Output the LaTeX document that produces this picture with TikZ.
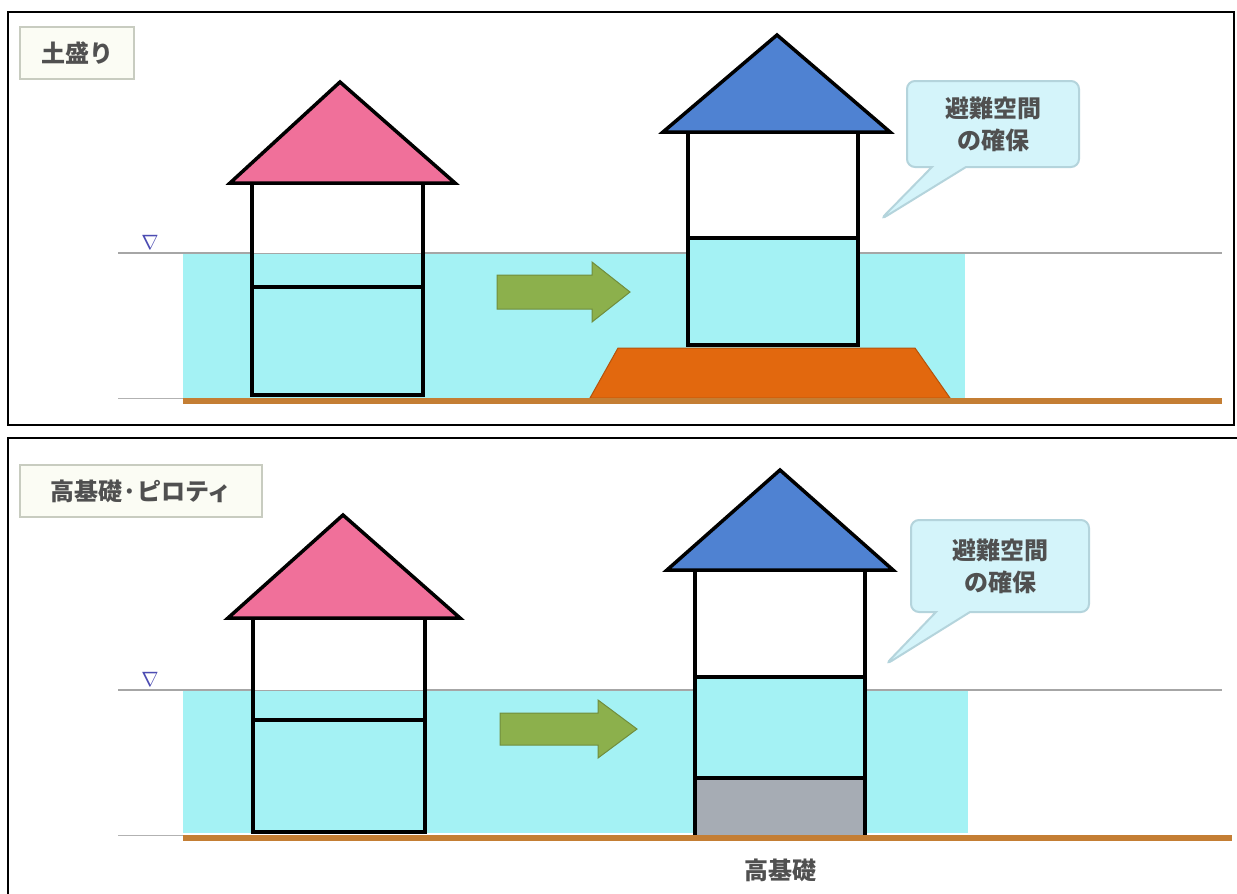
\documentclass[tikz,border=0pt]{standalone}
\usepackage{fontspec}
\newfontfamily\jpfont{Noto Sans CJK JP}
\usetikzlibrary{shapes.callouts}
\definecolor{water}{HTML}{A4F2F4}
\definecolor{ground}{HTML}{C47E34}
\definecolor{mound}{HTML}{E2680E}
\definecolor{pinkroof}{HTML}{F0709A}
\definecolor{blueroof}{HTML}{4F82D2}
\definecolor{arrowgreen}{HTML}{8CB04C}
\definecolor{pilotis}{HTML}{A6ACB4}
\definecolor{calloutfill}{HTML}{D4F4FA}
\definecolor{calloutline}{HTML}{B4D4DC}
\definecolor{labelline}{HTML}{C8CCC0}
\definecolor{labelfill}{HTML}{FBFCF4}
\definecolor{labeltext}{HTML}{505050}
\tikzset{
  frame/.style={draw=black, line width=2.5pt},
  wall/.style={draw=black, line width=4pt},
  roofstyle/.style={draw=black, line width=3.5pt, line join=miter},
  levelline/.style={draw=gray!70, line width=1.2pt},
  groundline/.style={draw=ground, line width=6pt},
  panellabel/.style={draw=labelline, fill=labelfill, line width=2.5pt, inner xsep=10pt,
    minimum height=52pt, font=\jpfont\bfseries\fontsize{24}{24}\selectfont, text=labeltext},
  callouttext/.style={font=\jpfont\bfseries\fontsize{24}{32}\selectfont, text=labeltext, align=center},
  calloutbox/.style={rectangle callout, rounded corners=8pt, fill=calloutfill, draw=calloutline,
    line width=2pt, callout pointer width=34pt, callouttext},
  flowarrow/.style={fill=arrowgreen, draw=arrowgreen!80!black, line width=1pt},
  levelmark/.style={font=\fontsize{20}{20}\selectfont, text=blue!40!gray}
}
\begin{document}
\begin{tikzpicture}[x=1pt,y=-1pt]
\useasboundingbox (0,0) rectangle (1237,894);
\fill[white] (0,0) rectangle (1237,894);

% ================= upper panel: raised ground =================
% flood water
\fill[water] (183,253) rectangle (965,398);
% flood level
\draw[levelline] (118,253) -- (1222,253);
\node[levelmark] (lv1) at (150,242) {$\nabla$};
% ground
\draw[draw=gray!60, line width=1pt] (118,398) -- (183,398);
% raised earth mound
\fill[mound, draw=mound!80!black, line width=1pt] (590,398) -- (618,348) -- (915,348) -- (950,398) -- cycle;
\draw[groundline] (183,401) -- (1222,401);

% left house
\fill[white] (252,183) rectangle (423,253);
\draw[wall] (252,183) rectangle (423,395);
\draw[wall] (252,287) -- (423,287);
\draw[roofstyle, fill=pinkroof] (230,183) -- (340,82) -- (455,183) -- cycle;

% right house on the mound
\fill[white] (688,132) rectangle (858,238);
\fill[water] (688,238) rectangle (858,345);
\draw[wall] (688,132) rectangle (858,345);
\draw[wall] (688,238) -- (858,238);
\draw[roofstyle, fill=blueroof] (663,132) -- (777,35) -- (890,132) -- cycle;

% arrow
\draw[flowarrow] (497,275) -- (592,275) -- (592,262) -- (630,292) -- (592,322) -- (592,309) -- (497,309) -- cycle;

% callout
\node[calloutbox, minimum width=172pt, minimum height=86pt,
      callout absolute pointer={(880,220)}] (c1) at (993,124) {避難空間\\の確保};

% panel label
\node[panellabel, minimum width=114pt] (l1) at (77,53) {土盛り};

% panel frame
\draw[frame] (8,12) rectangle (1234,425);

% ================= lower panel: raised foundation / pilotis =================
\fill[water] (183,690) rectangle (968,833);
\draw[levelline] (118,690) -- (1222,690);
\node[levelmark] (lv2) at (150,679) {$\nabla$};
\draw[draw=gray!60, line width=1pt] (118,835) -- (183,835);

% pilotis / high foundation block
\fill[pilotis] (695,780) rectangle (865,835);
\draw[groundline] (183,838) -- (1232,838);

% left house
\fill[white] (253,618) rectangle (425,690);
\draw[wall] (253,618) rectangle (425,832);
\draw[wall] (253,720) -- (425,720);
\draw[roofstyle, fill=pinkroof] (228,618) -- (343,515) -- (460,618) -- cycle;

% right house on the high foundation
\fill[white] (695,570) rectangle (865,677);
\fill[water] (695,677) rectangle (865,778);
\draw[wall] (695,570) rectangle (865,778);
\draw[wall] (695,677) -- (865,677);
\draw[wall] (695,778) -- (695,835);
\draw[wall] (865,778) -- (865,835);
\draw[roofstyle, fill=blueroof] (667,570) -- (780,470) -- (893,570) -- cycle;

% arrow
\draw[flowarrow] (500,713) -- (598,713) -- (598,700) -- (637,729) -- (598,758) -- (598,745) -- (500,745) -- cycle;

% callout
\node[calloutbox, minimum width=178pt, minimum height=92pt,
      callout absolute pointer={(885,665)}] (c2) at (1000,566) {避難空間\\の確保};

% panel label
\node[panellabel, minimum width=242pt] (l2) at (141,491) {高基礎·ピロティ};

% caption under the foundation
\node[font=\jpfont\bfseries\fontsize{24}{24}\selectfont, text=labeltext] (t2) at (780,870) {高基礎};

% panel frame
\draw[frame] (8,894) -- (8,438) -- (1237,438);
\end{tikzpicture}
\end{document}
